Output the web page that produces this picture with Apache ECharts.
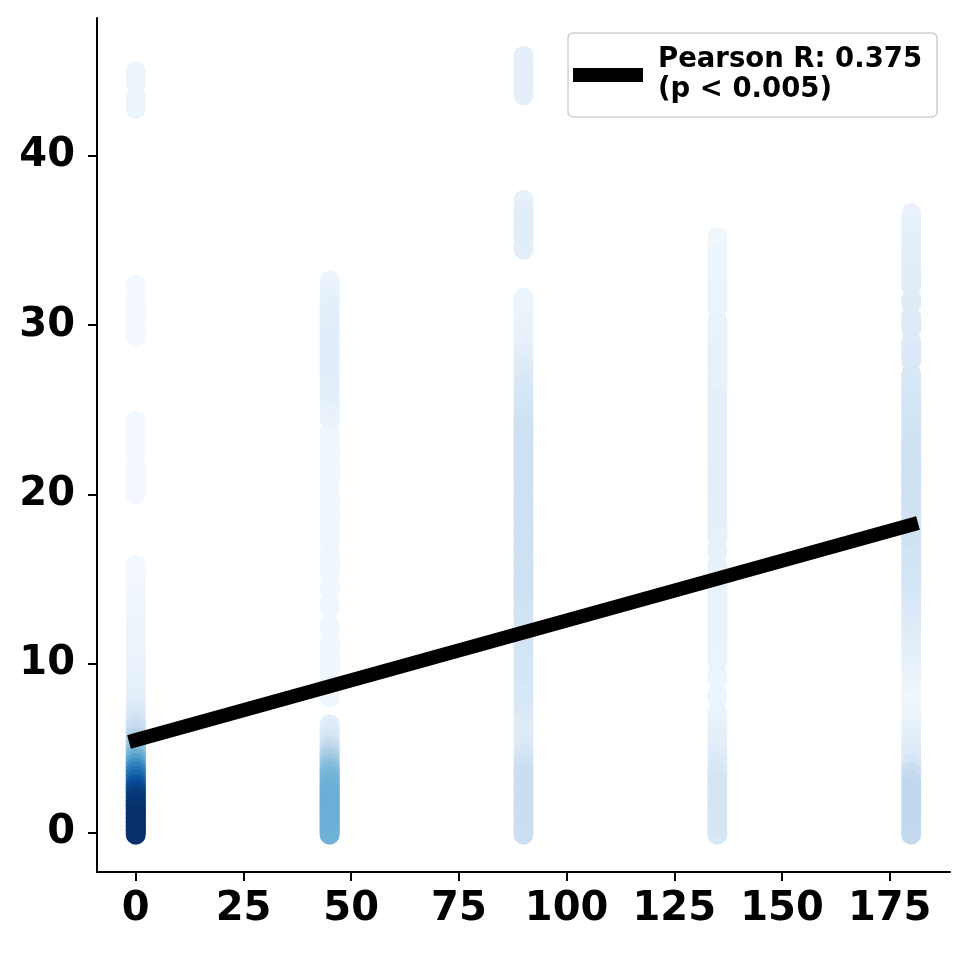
<!DOCTYPE html>
<html>
<head>
<meta charset="utf-8">
<title>Pearson scatter</title>
<script src="https://cdn.jsdelivr.net/npm/echarts@6/dist/echarts.min.js"></script>
<style>
    html, body { margin: 0; padding: 0; background: #fff; }
    #chart { width: 969px; height: 953px; }
</style>
</head>
<body>
<div id="chart"></div>
<script>
// column positions (x) and tick labels
const xGroups = [0, 45, 90, 135, 180];
const xTicks = [0, 25, 50, 75, 100, 125, 150, 175];
const yTicks = [0, 10, 20, 30, 40];

// y values per column, with the density (colour level 0..1)
const ys0 = [42.9, 43.4, 44.4, 44.9,
    29.5, 30.0, 30.5, 31.0, 31.4, 32.3,
    20.1, 20.6, 21.1, 21.6, 22.6, 23.1, 23.6, 24.2,
    15.7, 15.2, 14.7, 14.2, 13.7, 13.2, 12.7, 12.2, 11.7, 11.2, 10.7, 10.2, 9.7, 9.2, 8.7, 8.2,
    7.75, 7.5, 7.25, 7.0, 6.75, 6.5, 6.25, 6.0, 5.75, 5.5, 5.25, 5.0, 4.75, 4.5, 4.25, 4.0,
    3.75, 3.5, 3.25, 3.0, 2.75, 2.5, 2.25, 2.0, 1.75, 1.5, 1.25, 1.0, 0.75, 0.5, 0.25, 0];
const dens0 = [0.05, 0.05, 0.05, 0.05,
    0.02, 0.02, 0.02, 0.02, 0.02, 0.02,
    0.02, 0.02, 0.02, 0.02, 0.02, 0.02, 0.02, 0.02,
    0.02, 0.02, 0.03, 0.03, 0.04, 0.04, 0.04, 0.05, 0.05, 0.05, 0.06, 0.06, 0.07, 0.07, 0.08, 0.09,
    0.1, 0.11, 0.12, 0.13, 0.15, 0.17, 0.2, 0.23, 0.26, 0.3, 0.34, 0.37, 0.41, 0.45, 0.5, 0.56,
    0.63, 0.69, 0.74, 0.79, 0.85, 0.89, 0.92, 0.95, 0.97, 0.98, 0.99, 1, 1, 1, 1, 1];

const ys45 = [6.3, 6.0, 5.75, 5.5, 5.25, 5.0, 4.75, 4.5, 4.25, 4.0, 3.75, 3.5, 3.25,
    3.0, 2.75, 2.5, 2.25, 2.0, 1.75, 1.5, 1.25, 1.0, 0.75, 0.5, 0.25, 0,
    32.5, 32.0, 31.5, 31.0, 30.5, 30.0, 29.5, 29.0, 28.5, 28.0, 27.5, 27.0, 26.5, 26.0, 25.5, 25.0, 24.5,
    23.6, 23.1, 22.6, 22.1, 21.6, 21.1, 20.8, 19.9, 19.4, 18.9, 18.4, 17.9, 17.4,
    16.5, 16.0, 15.5, 14.5, 13.4, 12.2, 11.2, 10.7, 10.2, 9.7, 9.2, 8.7, 8.1];
const dens45 = [0.11, 0.12, 0.13, 0.15, 0.18, 0.22, 0.26, 0.3, 0.34, 0.38, 0.41, 0.44, 0.46,
    0.47, 0.48, 0.49, 0.5, 0.5, 0.5, 0.5, 0.5, 0.5, 0.5, 0.49, 0.49, 0.48,
    0.06, 0.07, 0.08, 0.09, 0.1, 0.1, 0.11, 0.11, 0.11, 0.11, 0.11, 0.1, 0.1, 0.09, 0.08, 0.07, 0.06,
    0.04, 0.04, 0.04, 0.04, 0.04, 0.04, 0.04, 0.04, 0.04, 0.04, 0.04, 0.04, 0.04,
    0.04, 0.04, 0.04, 0.04, 0.04, 0.04, 0.04, 0.04, 0.04, 0.04, 0.04, 0.04, 0.04];

const ys90 = [45.8, 45.3, 44.8, 44.3, 43.7,
    37.3, 36.8, 36.3, 35.8, 35.3, 34.6,
    31.5, 31.0, 30.5, 30.0, 29.5, 29.0, 28.5, 28.0, 27.5, 27.0, 26.5, 26.0, 25.5, 25.0, 24.5, 24.0,
    23.5, 23.0, 22.5, 22.0, 21.5, 21.0, 20.5, 20.0, 19.5, 19.0, 18.5, 18.0, 17.5, 17.0, 16.5, 16.0,
    15.5, 15.0, 14.5, 14.0, 13.5, 13.0,
    12.5, 12.0, 11.5, 11.0, 10.5, 10.0, 9.5, 9.0, 8.5, 8.0, 7.5, 7.0, 6.5, 6.0, 5.5, 5.0,
    4.5, 4.0, 3.5, 3.0, 2.5, 2.0, 1.5, 1.0, 0.5, 0];
const dens90 = [0.09, 0.1, 0.1, 0.1, 0.09,
    0.08, 0.1, 0.11, 0.11, 0.11, 0.1,
    0.05, 0.06, 0.06, 0.07, 0.07, 0.08, 0.09, 0.1, 0.12, 0.13, 0.15, 0.16, 0.17, 0.18, 0.19, 0.2,
    0.2, 0.21, 0.21, 0.2, 0.21, 0.21, 0.2, 0.2, 0.21, 0.21, 0.21, 0.2, 0.2, 0.21, 0.2, 0.2,
    0.2, 0.21, 0.2, 0.2, 0.19, 0.19,
    0.18, 0.18, 0.18, 0.18, 0.17, 0.17, 0.17, 0.16, 0.16, 0.15, 0.14, 0.13, 0.12, 0.12, 0.13, 0.14,
    0.17, 0.2, 0.22, 0.23, 0.23, 0.23, 0.23, 0.23, 0.22, 0.22];

const ys135 = [35.1, 34.6, 34.1, 33.6, 33.1, 32.6, 32.1, 31.6, 31.1,
    30.1, 29.6, 29.1, 28.6, 28.1, 27.6, 27.1, 26.6, 26.1, 25.6, 25.1, 24.6, 24.1, 23.6, 23.1, 22.6,
    22.1, 21.6, 21.1, 20.6, 20.1, 19.6, 19.1, 18.6, 18.1, 17.6,
    16.7,
    15.7, 15.2, 14.7, 14.2, 13.7, 13.2, 12.7, 12.2, 11.7, 11.2, 10.7, 10.2,
    9.2, 8.1, 7.0, 6.5, 6.0, 5.5, 5.0, 4.5, 4.0, 3.5, 3.0, 2.5, 2.0, 1.5, 1.0, 0.5, 0];
const dens135 = [0.04, 0.04, 0.05, 0.05, 0.05, 0.05, 0.06, 0.06, 0.06,
    0.07, 0.07, 0.07, 0.08, 0.08, 0.08, 0.08, 0.08, 0.08, 0.09, 0.09, 0.09, 0.09, 0.09, 0.09, 0.09,
    0.09, 0.1, 0.1, 0.1, 0.1, 0.09, 0.09, 0.09, 0.08, 0.08,
    0.08,
    0.08, 0.08, 0.07, 0.07, 0.07, 0.07, 0.07, 0.07, 0.07, 0.06, 0.06, 0.06,
    0.05, 0.05, 0.06, 0.07, 0.08, 0.09, 0.1, 0.12, 0.14, 0.16, 0.18, 0.18, 0.18, 0.17, 0.17, 0.17, 0.16];

const ys180 = [36.5, 36.0, 35.5, 35.0, 34.5, 34.0, 33.5, 33.0, 32.4, 31.4, 30.4, 29.9, 28.9, 28.4, 28.0,
    27.0, 26.5, 26.0, 25.5, 25.0, 24.5, 24.0, 23.5, 23.0, 22.5, 22.0, 21.5, 21.0, 20.5, 20.0,
    19.5, 19.0, 18.5, 18.0, 17.5, 17.0, 16.5, 16.0, 15.5, 15.0,
    14.5, 14.0, 13.5, 13.0, 12.5, 12.0, 11.5, 11.0, 10.5, 10.0,
    9.5, 9.0, 8.5, 8.0, 7.5, 7.0, 6.5, 6.0,
    5.5, 5.0, 4.5, 4.0, 3.5,
    3.0, 2.5, 2.0, 1.5, 1.0, 0.5, 0];
const dens180 = [0.07, 0.08, 0.08, 0.09, 0.09, 0.1, 0.1, 0.11, 0.11, 0.12, 0.12, 0.13, 0.13, 0.14, 0.14,
    0.15, 0.16, 0.16, 0.17, 0.18, 0.18, 0.19, 0.19, 0.2, 0.2, 0.21, 0.21, 0.21, 0.21, 0.2,
    0.2, 0.2, 0.2, 0.2, 0.2, 0.19, 0.19, 0.18, 0.18, 0.17,
    0.16, 0.15, 0.14, 0.13, 0.12, 0.11, 0.1, 0.09, 0.08, 0.07,
    0.06, 0.05, 0.04, 0.04, 0.04, 0.05, 0.06, 0.08,
    0.1, 0.11, 0.13, 0.17, 0.22,
    0.26, 0.27, 0.27, 0.27, 0.27, 0.26, 0.26];

// regression fit end points
const fitX = [0, 180];
const fitY = [5.48, 18.2];
const pearsonR = 0.375;
const pText = '(p < 0.005)';

const BLUES = ['#f7fbff', '#deebf7', '#c6dbef', '#9ecae1', '#6baed6', '#4292c6', '#2171b5', '#08519c', '#08306b'];
const FONT = 'DejaVu Sans';
// round-ended marker, a little taller than wide so stacked points read as a smooth strip
const PILL = 'path://M0,10 A10,10 0 0 1 20,10 L20,14 A10,10 0 0 1 0,14 Z';

let chartApp = {
    buildPoints() {
        var cols = [ys0, ys45, ys90, ys135, ys180];
        var dens = [dens0, dens45, dens90, dens135, dens180];
        var pts = [];
        cols.forEach((ys, c) => {
            ys.forEach((y, i) => {
                pts.push([xGroups[c], y, dens[c][i]]);
            });
        });
        // densest points drawn last, like a sorted kde scatter
        pts.sort((a, b) => a[2] - b[2]);
        return pts;
    },

    create_chart() {
        var dom = document.getElementById('chart');
        var myChart = echarts.init(dom, null, { renderer: 'canvas' });
        var fitName = 'Pearson R: ' + pearsonR + '\n' + pText;

        let option = {
            animation: false,
            backgroundColor: '#fff',
            grid: {
                left: 97,
                right: 19,
                top: 18,
                bottom: 81
            },
            legend: {
                data: [fitName],
                left: 568,
                top: 33,
                orient: 'vertical',
                padding: [12, 15, 12, 5],
                itemWidth: 70,
                itemHeight: 14,
                icon: 'rect',
                itemStyle: { color: '#000', borderWidth: 0 },
                borderColor: '#cfcfcf',
                borderWidth: 1.5,
                borderRadius: 5,
                backgroundColor: '#fff',
                textStyle: {
                    fontFamily: FONT,
                    fontWeight: 'bold',
                    fontSize: 27.5,
                    lineHeight: 30,
                    color: '#000',
                    padding: [0, 0, 0, 10]
                }
            },
            visualMap: {
                show: false,
                seriesIndex: 0,
                dimension: 2,
                min: 0,
                max: 1,
                inRange: { color: BLUES }
            },
            xAxis: {
                type: 'value',
                min: -9,
                max: 189,
                splitLine: { show: false },
                axisLine: { onZero: false, lineStyle: { color: '#000', width: 2 } },
                axisTick: { customValues: xTicks, length: 9, lineStyle: { color: '#000', width: 2 } },
                axisLabel: {
                    customValues: xTicks,
                    margin: 18,
                    color: '#000',
                    fontFamily: FONT,
                    fontWeight: 'bold',
                    fontSize: 40
                }
            },
            yAxis: {
                type: 'value',
                min: -2.32,
                max: 48.16,
                splitLine: { show: false },
                axisLine: { onZero: false, lineStyle: { color: '#000', width: 2 } },
                axisTick: { customValues: yTicks, length: 9, lineStyle: { color: '#000', width: 2 } },
                axisLabel: {
                    customValues: yTicks,
                    margin: 22,
                    color: '#000',
                    fontFamily: FONT,
                    fontWeight: 'bold',
                    fontSize: 40
                }
            },
            series: [{
                    type: 'scatter',
                    name: 'points',
                    symbol: PILL,
                    symbolSize: [20, 24],
                    itemStyle: { opacity: 1 },
                    emphasis: { disabled: true },
                    data: this.buildPoints(),
                    z: 2
                },
                {
                    type: 'line',
                    name: fitName,
                    data: [[fitX[0], fitY[0]], [fitX[1], fitY[1]]],
                    symbol: 'none',
                    color: '#000',
                    itemStyle: { color: '#000' },
                    lineStyle: { color: '#000', width: 14, cap: 'square' },
                    emphasis: { disabled: true },
                    z: 3
                }
            ]
        };

        myChart.setOption(option);
    }
};

chartApp.create_chart();
</script>
</body>
</html>
